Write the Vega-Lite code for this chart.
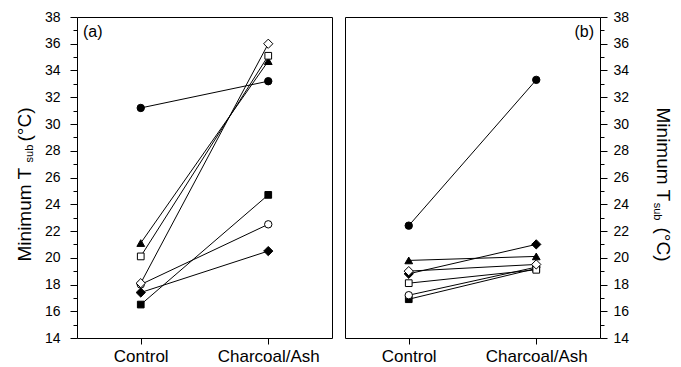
{
  "$schema": "https://vega.github.io/schema/vega-lite/v6.json",
  "padding": {"left": 14, "top": 9, "right": 5, "bottom": 5},
  "spacing": 11,
  "config": {
    "font": "Liberation Sans",
    "view": {"stroke": "black", "strokeWidth": 1},
    "axis": {"grid": false, "domain": false, "tickColor": "black", "labelColor": "black", "titleColor": "black", "labelFont": "Liberation Sans", "titleFont": "Liberation Sans", "titleFontWeight": "normal"},
    "title": {"font": "Liberation Sans", "fontWeight": "normal", "color": "black"}
  },
  "datasets": {
    "a": [
      {"series": "filled circle", "treatment": "Control", "value": 31.2},
      {"series": "filled circle", "treatment": "Charcoal/Ash", "value": 33.2},
      {"series": "filled triangle", "treatment": "Control", "value": 21.1},
      {"series": "filled triangle", "treatment": "Charcoal/Ash", "value": 34.7},
      {"series": "open square", "treatment": "Control", "value": 20.1},
      {"series": "open square", "treatment": "Charcoal/Ash", "value": 35.1},
      {"series": "open circle", "treatment": "Control", "value": 18.0},
      {"series": "open circle", "treatment": "Charcoal/Ash", "value": 22.5},
      {"series": "open diamond", "treatment": "Control", "value": 18.1},
      {"series": "open diamond", "treatment": "Charcoal/Ash", "value": 36.0},
      {"series": "filled diamond", "treatment": "Control", "value": 17.4},
      {"series": "filled diamond", "treatment": "Charcoal/Ash", "value": 20.5},
      {"series": "filled square", "treatment": "Control", "value": 16.5},
      {"series": "filled square", "treatment": "Charcoal/Ash", "value": 24.7}
    ],
    "b": [
      {"series": "filled square", "treatment": "Control", "value": 16.9},
      {"series": "filled square", "treatment": "Charcoal/Ash", "value": 19.2},
      {"series": "open circle", "treatment": "Control", "value": 17.2},
      {"series": "open circle", "treatment": "Charcoal/Ash", "value": 19.3},
      {"series": "open square", "treatment": "Control", "value": 18.1},
      {"series": "open square", "treatment": "Charcoal/Ash", "value": 19.1},
      {"series": "filled diamond", "treatment": "Control", "value": 18.8},
      {"series": "filled diamond", "treatment": "Charcoal/Ash", "value": 21.0},
      {"series": "open diamond", "treatment": "Control", "value": 19.0},
      {"series": "open diamond", "treatment": "Charcoal/Ash", "value": 19.5},
      {"series": "filled triangle", "treatment": "Control", "value": 19.8},
      {"series": "filled triangle", "treatment": "Charcoal/Ash", "value": 20.1},
      {"series": "filled circle", "treatment": "Control", "value": 22.4},
      {"series": "filled circle", "treatment": "Charcoal/Ash", "value": 33.3}
    ]
  },
  "hconcat": [
    {
      "width": 255,
      "height": 321,
      "data": {"name": "a"},
      "title": {"text": "(a)", "anchor": "start", "frame": "group", "dx": 6, "dy": 34, "fontSize": 16},
      "layer": [
        {
          "mark": {"type": "line", "color": "black", "strokeWidth": 1},
          "encoding": {
            "x": {"field": "treatment", "type": "nominal", "scale": {"type": "point", "padding": 0.5, "domain": ["Control", "Charcoal/Ash"]}, "axis": {"title": null, "labelAngle": 0, "labelFontSize": 17, "tickSize": 6, "labelPadding": 4}},
            "y": {"field": "value", "type": "quantitative", "scale": {"domain": [14, 38], "nice": false, "zero": false},
              "axis": {"orient": "left", "title": "Minimum T\u00a0\u00a0\u00a0\u00a0\u00a0(°C)", "titleFontSize": 19, "titleAngle": -90, "titleX": -53, "titleY": 167, "titleAlign": "center", "titleBaseline": "middle",
                "values": [14,15,16,17,18,19,20,21,22,23,24,25,26,27,28,29,30,31,32,33,34,35,36,37,38],
                "labelExpr": "datum.value % 2 === 0 ? datum.label : ''",
                "tickSize": {"condition": {"test": "datum.value % 2 === 0", "value": 7}, "value": 4},
                "labelFontSize": 14, "labelPadding": 10}},
            "detail": {"field": "series"}
          }
        },
        {
          "mark": {"type": "point", "filled": true, "stroke": "black", "strokeWidth": 1, "opacity": 1},
          "encoding": {
            "x": {"field": "treatment", "type": "nominal", "scale": {"type": "point", "padding": 0.5, "domain": ["Control", "Charcoal/Ash"]}, "axis": {"title": null, "labelAngle": 0, "labelFontSize": 17, "tickSize": 6, "labelPadding": 4}},
            "y": {"field": "value", "type": "quantitative",
              "axis": {"orient": "right", "labels": false, "ticks": false, "domain": false, "title": "sub", "titleFontSize": 11, "titleAngle": -90, "titleX": -303, "titleY": 136, "titleAlign": "center", "titleBaseline": "middle"}},
            "shape": {"field": "series", "legend": null, "scale": {"domain": ["filled circle", "filled triangle", "open square", "open circle", "open diamond", "filled diamond", "filled square"], "range": ["circle", "triangle-up", "square", "circle", "diamond", "diamond", "square"]}},
            "fill": {"field": "series", "legend": null, "scale": {"domain": ["filled circle", "filled triangle", "open square", "open circle", "open diamond", "filled diamond", "filled square"], "range": ["black", "black", "white", "white", "white", "black", "black"]}},
            "size": {"field": "series", "legend": null, "scale": {"type": "ordinal", "domain": ["filled circle", "filled triangle", "open square", "open circle", "open diamond", "filled diamond", "filled square"], "range": [55, 60, 45, 55, 85, 85, 45]}}
          }
        }
      ],
      "resolve": {"axis": {"y": "independent"}}
    },
    {
      "width": 255,
      "height": 321,
      "data": {"name": "b"},
      "title": {"text": "(b)", "anchor": "end", "frame": "group", "dx": -6, "dy": 34, "fontSize": 16},
      "layer": [
        {
          "mark": {"type": "line", "color": "black", "strokeWidth": 1},
          "encoding": {
            "x": {"field": "treatment", "type": "nominal", "scale": {"type": "point", "padding": 0.5, "domain": ["Control", "Charcoal/Ash"]}, "axis": {"title": null, "labelAngle": 0, "labelFontSize": 17, "tickSize": 6, "labelPadding": 4}},
            "y": {"field": "value", "type": "quantitative", "scale": {"domain": [14, 38], "nice": false, "zero": false},
              "axis": {"orient": "right", "title": "Minimum T\u00a0\u00a0\u00a0\u00a0\u00a0(°C)", "titleFontSize": 19, "titleAngle": 90, "titleX": 62, "titleY": 167, "titleAlign": "center", "titleBaseline": "middle",
                "values": [14,15,16,17,18,19,20,21,22,23,24,25,26,27,28,29,30,31,32,33,34,35,36,37,38],
                "labelExpr": "datum.value % 2 === 0 ? datum.label : ''",
                "tickSize": {"condition": {"test": "datum.value % 2 === 0", "value": 7}, "value": 4},
                "labelFontSize": 14, "labelPadding": 6}},
            "detail": {"field": "series"}
          }
        },
        {
          "mark": {"type": "point", "filled": true, "stroke": "black", "strokeWidth": 1, "opacity": 1},
          "encoding": {
            "x": {"field": "treatment", "type": "nominal", "scale": {"type": "point", "padding": 0.5, "domain": ["Control", "Charcoal/Ash"]}, "axis": {"title": null, "labelAngle": 0, "labelFontSize": 17, "tickSize": 6, "labelPadding": 4}},
            "y": {"field": "value", "type": "quantitative",
              "axis": {"orient": "left", "labels": false, "ticks": false, "domain": false, "title": "sub", "titleFontSize": 11, "titleAngle": 90, "titleX": 311, "titleY": 194, "titleAlign": "center", "titleBaseline": "middle"}},
            "shape": {"field": "series", "legend": null, "scale": {"domain": ["filled circle", "filled triangle", "open square", "open circle", "open diamond", "filled diamond", "filled square"], "range": ["circle", "triangle-up", "square", "circle", "diamond", "diamond", "square"]}},
            "fill": {"field": "series", "legend": null, "scale": {"domain": ["filled circle", "filled triangle", "open square", "open circle", "open diamond", "filled diamond", "filled square"], "range": ["black", "black", "white", "white", "white", "black", "black"]}},
            "size": {"field": "series", "legend": null, "scale": {"type": "ordinal", "domain": ["filled circle", "filled triangle", "open square", "open circle", "open diamond", "filled diamond", "filled square"], "range": [55, 60, 45, 55, 85, 85, 45]}}
          }
        }
      ],
      "resolve": {"axis": {"y": "independent"}}
    }
  ]
}
